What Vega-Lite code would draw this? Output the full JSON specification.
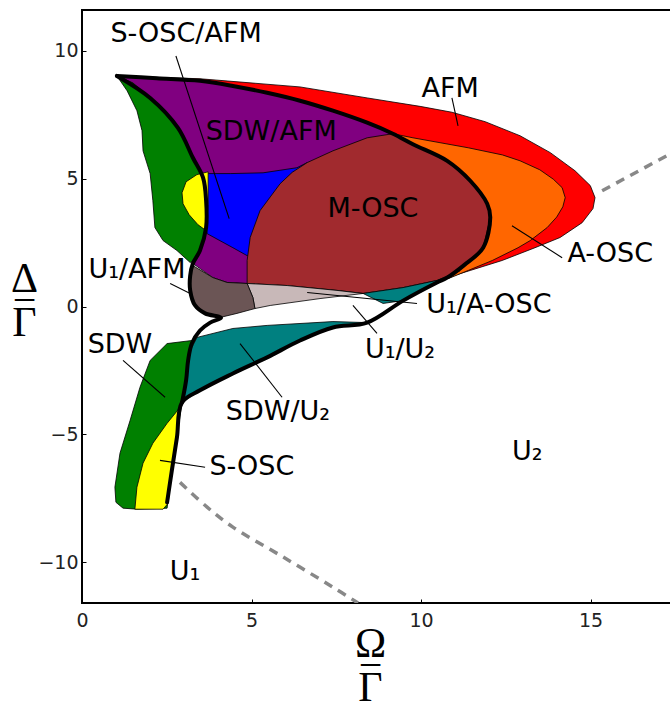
{
  "$schema": "https://vega.github.io/schema/vega-lite/v6.json",
  "width": 590,
  "height": 593,
  "autosize": {"type": "none"},
  "padding": {"left": 82, "top": 10, "right": 0, "bottom": 101},
  "background": "white",
  "config": {
    "view": {"stroke": "#000", "strokeWidth": 2},
    "axis": {"domain": false, "grid": false, "tickSize": -4, "tickColor": "#000", "labelFontSize": 19, "labelFont": "DejaVu Sans", "labelColor": "#222", "labelFlush": false, "titleFont": "Liberation Serif", "titleFontSize": 42, "titleFontWeight": "normal", "titleColor": "#000", "titleLineHeight": 22, "titleAngle": 0, "titleAlign": "center", "titleBaseline": "alphabetic"}
  },
  "datasets": {
    "poly": [
      {"r":"afm","i":1,"x":1.03,"y":9.02},{"r":"afm","i":2,"x":3.48,"y":8.91},{"r":"afm","i":3,"x":6.43,"y":8.59},{"r":"afm","i":4,"x":8.41,"y":8.16},{"r":"afm","i":5,"x":9.97,"y":7.83},{"r":"afm","i":6,"x":10.91,"y":7.60},{"r":"afm","i":7,"x":11.89,"y":7.23},{"r":"afm","i":8,"x":12.92,"y":6.68},{"r":"afm","i":9,"x":13.81,"y":6.02},{"r":"afm","i":10,"x":14.54,"y":5.31},{"r":"afm","i":11,"x":14.99,"y":4.73},{"r":"afm","i":12,"x":15.13,"y":4.26},{"r":"afm","i":13,"x":15.07,"y":3.83},{"r":"afm","i":14,"x":14.75,"y":3.28},{"r":"afm","i":15,"x":14.10,"y":2.70},{"r":"afm","i":16,"x":13.36,"y":2.30},{"r":"afm","i":17,"x":12.39,"y":1.80},{"r":"afm","i":18,"x":11.45,"y":1.41},{"r":"afm","i":19,"x":10.77,"y":1.13},{"r":"afm","i":20,"x":11.27,"y":1.62},{"r":"afm","i":21,"x":11.83,"y":2.30},{"r":"afm","i":22,"x":12.04,"y":3.48},{"r":"afm","i":23,"x":11.95,"y":4.02},{"r":"afm","i":24,"x":11.45,"y":4.92},{"r":"afm","i":25,"x":10.77,"y":5.70},{"r":"afm","i":26,"x":9.76,"y":6.35},{"r":"afm","i":27,"x":9.17,"y":6.76},{"r":"afm","i":28,"x":8.41,"y":7.19},{"r":"afm","i":29,"x":7.40,"y":7.66},{"r":"afm","i":30,"x":6.43,"y":8.05},{"r":"afm","i":31,"x":5.46,"y":8.36},{"r":"afm","i":32,"x":4.45,"y":8.63},{"r":"afm","i":33,"x":3.48,"y":8.83},{"r":"afm","i":34,"x":2.2,"y":8.93},
      {"r":"aosc","i":1,"x":9.17,"y":6.76},{"r":"aosc","i":2,"x":9.76,"y":6.60},{"r":"aosc","i":3,"x":11.39,"y":6.21},{"r":"aosc","i":4,"x":12.40,"y":5.93},{"r":"aosc","i":5,"x":12.92,"y":5.70},{"r":"aosc","i":6,"x":13.50,"y":5.35},{"r":"aosc","i":7,"x":13.90,"y":4.98},{"r":"aosc","i":8,"x":14.16,"y":4.65},{"r":"aosc","i":9,"x":14.25,"y":4.26},{"r":"aosc","i":10,"x":14.18,"y":3.90},{"r":"aosc","i":11,"x":14.00,"y":3.50},{"r":"aosc","i":12,"x":13.72,"y":3.09},{"r":"aosc","i":13,"x":13.22,"y":2.58},{"r":"aosc","i":14,"x":12.86,"y":2.30},{"r":"aosc","i":15,"x":12.10,"y":1.80},{"r":"aosc","i":16,"x":11.39,"y":1.41},{"r":"aosc","i":17,"x":10.80,"y":1.09},{"r":"aosc","i":18,"x":11.27,"y":1.62},{"r":"aosc","i":19,"x":11.83,"y":2.30},{"r":"aosc","i":20,"x":12.04,"y":3.48},{"r":"aosc","i":21,"x":11.95,"y":4.02},{"r":"aosc","i":22,"x":11.45,"y":4.92},{"r":"aosc","i":23,"x":10.77,"y":5.70},{"r":"aosc","i":24,"x":9.76,"y":6.35},
      {"r":"sdwafm","i":1,"x":1.03,"y":9.02},{"r":"sdwafm","i":2,"x":2.2,"y":8.93},{"r":"sdwafm","i":3,"x":3.48,"y":8.83},{"r":"sdwafm","i":4,"x":4.45,"y":8.63},{"r":"sdwafm","i":5,"x":5.46,"y":8.36},{"r":"sdwafm","i":6,"x":6.43,"y":8.05},{"r":"sdwafm","i":7,"x":7.40,"y":7.66},{"r":"sdwafm","i":8,"x":8.41,"y":7.19},{"r":"sdwafm","i":9,"x":9.17,"y":6.76},{"r":"sdwafm","i":10,"x":7.5,"y":4.0},{"r":"sdwafm","i":11,"x":4.87,"y":0.90},{"r":"sdwafm","i":12,"x":4.28,"y":0.94},{"r":"sdwafm","i":13,"x":3.86,"y":1.13},{"r":"sdwafm","i":14,"x":3.27,"y":1.68},{"r":"sdwafm","i":15,"x":3.48,"y":2.19},{"r":"sdwafm","i":16,"x":3.66,"y":3.09},{"r":"sdwafm","i":17,"x":3.66,"y":4.14},{"r":"sdwafm","i":18,"x":3.57,"y":5.04},{"r":"sdwafm","i":19,"x":3.27,"y":5.82},{"r":"sdwafm","i":20,"x":2.83,"y":6.99},{"r":"sdwafm","i":21,"x":2.01,"y":8.16},
      {"r":"soscafm","i":1,"x":3.69,"y":5.20},{"r":"soscafm","i":2,"x":4.37,"y":5.20},{"r":"soscafm","i":3,"x":5.34,"y":5.23},{"r":"soscafm","i":4,"x":6.34,"y":5.43},{"r":"soscafm","i":5,"x":6.64,"y":5.63},{"r":"soscafm","i":6,"x":7.5,"y":4.0},{"r":"soscafm","i":7,"x":4.87,"y":1.99},{"r":"soscafm","i":8,"x":4.45,"y":2.30},{"r":"soscafm","i":9,"x":3.69,"y":2.85},{"r":"soscafm","i":10,"x":3.62,"y":4.0},
      {"r":"mosc","i":1,"x":4.87,"y":0.90},{"r":"mosc","i":2,"x":4.87,"y":1.80},{"r":"mosc","i":3,"x":4.96,"y":2.70},{"r":"mosc","i":4,"x":5.25,"y":3.75},{"r":"mosc","i":5,"x":5.84,"y":4.80},{"r":"mosc","i":6,"x":6.2,"y":5.25},{"r":"mosc","i":7,"x":6.64,"y":5.63},{"r":"mosc","i":8,"x":7.40,"y":6.09},{"r":"mosc","i":9,"x":8.41,"y":6.60},{"r":"mosc","i":10,"x":9.17,"y":6.76},{"r":"mosc","i":11,"x":9.76,"y":6.35},{"r":"mosc","i":12,"x":10.77,"y":5.70},{"r":"mosc","i":13,"x":11.45,"y":4.92},{"r":"mosc","i":14,"x":11.95,"y":4.02},{"r":"mosc","i":15,"x":12.04,"y":3.48},{"r":"mosc","i":16,"x":11.83,"y":2.30},{"r":"mosc","i":17,"x":11.27,"y":1.62},{"r":"mosc","i":18,"x":10.77,"y":1.13},{"r":"mosc","i":19,"x":10.47,"y":1.02},{"r":"mosc","i":20,"x":9.47,"y":0.74},{"r":"mosc","i":21,"x":8.29,"y":0.51},{"r":"mosc","i":22,"x":7.52,"y":0.63},{"r":"mosc","i":23,"x":6.05,"y":0.82},
      {"r":"u1aosc","i":1,"x":4.87,"y":0.90},{"r":"u1aosc","i":2,"x":6.05,"y":0.82},{"r":"u1aosc","i":3,"x":7.52,"y":0.63},{"r":"u1aosc","i":4,"x":8.29,"y":0.51},{"r":"u1aosc","i":5,"x":7.02,"y":0.31},{"r":"u1aosc","i":6,"x":5.55,"y":0.04},{"r":"u1aosc","i":7,"x":5.10,"y":-0.08},{"r":"u1aosc","i":8,"x":5.04,"y":0.35},
      {"r":"tealA","i":1,"x":8.29,"y":0.51},{"r":"tealA","i":2,"x":9.47,"y":0.74},{"r":"tealA","i":3,"x":10.47,"y":1.02},{"r":"tealA","i":4,"x":11.15,"y":1.41},{"r":"tealA","i":5,"x":9.47,"y":0.23},{"r":"tealA","i":6,"x":8.88,"y":0.12},
      {"r":"u1afm","i":1,"x":3.27,"y":1.60},{"r":"u1afm","i":2,"x":3.86,"y":1.13},{"r":"u1afm","i":3,"x":4.28,"y":0.94},{"r":"u1afm","i":4,"x":4.87,"y":0.90},{"r":"u1afm","i":5,"x":5.04,"y":0.35},{"r":"u1afm","i":6,"x":5.10,"y":-0.08},{"r":"u1afm","i":7,"x":4.57,"y":-0.27},{"r":"u1afm","i":8,"x":4.10,"y":-0.42},{"r":"u1afm","i":9,"x":3.63,"y":-0.27},{"r":"u1afm","i":10,"x":3.33,"y":0.05},{"r":"u1afm","i":11,"x":3.19,"y":0.63},{"r":"u1afm","i":12,"x":3.19,"y":1.20},
      {"r":"sdwu2","i":1,"x":3.39,"y":-1.21},{"r":"sdwu2","i":2,"x":4.45,"y":-0.86},{"r":"sdwu2","i":3,"x":5.46,"y":-0.74},{"r":"sdwu2","i":4,"x":7.40,"y":-0.59},{"r":"sdwu2","i":5,"x":8.41,"y":-0.63},{"r":"sdwu2","i":6,"x":7.40,"y":-0.82},{"r":"sdwu2","i":7,"x":6.43,"y":-1.33},{"r":"sdwu2","i":8,"x":5.46,"y":-1.99},{"r":"sdwu2","i":9,"x":4.45,"y":-2.62},{"r":"sdwu2","i":10,"x":3.48,"y":-3.28},{"r":"sdwu2","i":11,"x":2.95,"y":-3.75},{"r":"sdwu2","i":12,"x":3.07,"y":-2.89},{"r":"sdwu2","i":13,"x":3.19,"y":-1.72},
      {"r":"sdw","i":1,"x":3.24,"y":-1.33},{"r":"sdw","i":2,"x":2.51,"y":-1.45},{"r":"sdw","i":3,"x":2.01,"y":-2.11},{"r":"sdw","i":4,"x":1.71,"y":-3.16},{"r":"sdw","i":5,"x":1.42,"y":-4.45},{"r":"sdw","i":6,"x":1.12,"y":-5.74},{"r":"sdw","i":7,"x":0.97,"y":-7.07},{"r":"sdw","i":8,"x":1.00,"y":-7.66},{"r":"sdw","i":9,"x":1.21,"y":-7.89},{"r":"sdw","i":10,"x":1.62,"y":-7.93},{"r":"sdw","i":11,"x":2.51,"y":-7.89},{"r":"sdw","i":12,"x":2.65,"y":-6.41},{"r":"sdw","i":13,"x":2.80,"y":-5.12},{"r":"sdw","i":14,"x":2.95,"y":-3.75},{"r":"sdw","i":15,"x":3.10,"y":-2.50},
      {"r":"sosc","i":1,"x":2.89,"y":-3.95},{"r":"sosc","i":2,"x":2.51,"y":-4.57},{"r":"sosc","i":3,"x":2.09,"y":-5.35},{"r":"sosc","i":4,"x":1.80,"y":-6.13},{"r":"sosc","i":5,"x":1.62,"y":-7.07},{"r":"sosc","i":6,"x":1.56,"y":-7.93},{"r":"sosc","i":7,"x":2.39,"y":-7.93},{"r":"sosc","i":8,"x":2.54,"y":-7.70},{"r":"sosc","i":9,"x":2.65,"y":-6.41},{"r":"sosc","i":10,"x":2.80,"y":-5.12},
      {"r":"sdw2","i":1,"x":1.03,"y":9.02},{"r":"sdw2","i":2,"x":1.33,"y":8.44},{"r":"sdw2","i":3,"x":1.62,"y":7.66},{"r":"sdw2","i":4,"x":1.77,"y":6.88},{"r":"sdw2","i":5,"x":1.80,"y":6.09},{"r":"sdw2","i":6,"x":2.01,"y":5.20},{"r":"sdw2","i":7,"x":2.09,"y":4.14},{"r":"sdw2","i":8,"x":2.15,"y":3.09},{"r":"sdw2","i":9,"x":2.39,"y":2.58},{"r":"sdw2","i":10,"x":2.80,"y":2.19},{"r":"sdw2","i":11,"x":3.19,"y":1.72},{"r":"sdw2","i":12,"x":3.30,"y":1.80},{"r":"sdw2","i":13,"x":3.48,"y":2.19},{"r":"sdw2","i":14,"x":3.66,"y":3.09},{"r":"sdw2","i":15,"x":3.66,"y":4.14},{"r":"sdw2","i":16,"x":3.57,"y":5.04},{"r":"sdw2","i":17,"x":3.27,"y":5.82},{"r":"sdw2","i":18,"x":2.83,"y":6.99},{"r":"sdw2","i":19,"x":2.01,"y":8.16},{"r":"sdw2","i":20,"x":1.50,"y":8.75},
      {"r":"sosc2","i":1,"x":3.72,"y":5.27},{"r":"sosc2","i":2,"x":3.39,"y":5.16},{"r":"sosc2","i":3,"x":3.07,"y":4.88},{"r":"sosc2","i":4,"x":2.95,"y":4.45},{"r":"sosc2","i":5,"x":2.98,"y":4.02},{"r":"sosc2","i":6,"x":3.16,"y":3.59},{"r":"sosc2","i":7,"x":3.42,"y":3.20},{"r":"sosc2","i":8,"x":3.66,"y":2.97},{"r":"sosc2","i":9,"x":3.72,"y":4.0}
    ],
    "lines": [
      {"r":"A","i":1,"x":1.03,"y":9.02},{"r":"A","i":2,"x":2.2,"y":8.93},{"r":"A","i":3,"x":3.48,"y":8.83},{"r":"A","i":4,"x":4.45,"y":8.63},{"r":"A","i":5,"x":5.46,"y":8.36},{"r":"A","i":6,"x":6.43,"y":8.05},{"r":"A","i":7,"x":7.40,"y":7.66},{"r":"A","i":8,"x":8.41,"y":7.19},{"r":"A","i":9,"x":9.17,"y":6.76},{"r":"A","i":10,"x":9.76,"y":6.35},{"r":"A","i":11,"x":10.77,"y":5.70},{"r":"A","i":12,"x":11.45,"y":4.92},{"r":"A","i":13,"x":11.95,"y":4.02},{"r":"A","i":14,"x":12.04,"y":3.48},{"r":"A","i":15,"x":11.83,"y":2.30},{"r":"A","i":16,"x":11.27,"y":1.62},{"r":"A","i":17,"x":10.77,"y":1.13},{"r":"A","i":18,"x":10.47,"y":0.94},{"r":"A","i":19,"x":9.47,"y":0.23},{"r":"A","i":20,"x":8.41,"y":-0.63},{"r":"A","i":21,"x":7.40,"y":-0.82},{"r":"A","i":22,"x":6.43,"y":-1.33},{"r":"A","i":23,"x":5.46,"y":-1.99},{"r":"A","i":24,"x":4.45,"y":-2.62},{"r":"A","i":25,"x":3.48,"y":-3.28},{"r":"A","i":26,"x":2.95,"y":-3.75},{"r":"A","i":27,"x":2.80,"y":-5.12},{"r":"A","i":28,"x":2.65,"y":-6.41},{"r":"A","i":29,"x":2.51,"y":-7.66},
      {"r":"B","i":1,"x":1.03,"y":9.02},{"r":"B","i":2,"x":2.01,"y":8.16},{"r":"B","i":3,"x":2.83,"y":6.99},{"r":"B","i":4,"x":3.27,"y":5.82},{"r":"B","i":5,"x":3.57,"y":5.04},{"r":"B","i":6,"x":3.66,"y":4.14},{"r":"B","i":7,"x":3.66,"y":3.09},{"r":"B","i":8,"x":3.48,"y":2.19},{"r":"B","i":9,"x":3.27,"y":1.68},{"r":"B","i":10,"x":3.19,"y":1.20},{"r":"B","i":11,"x":3.19,"y":0.63},{"r":"B","i":12,"x":3.33,"y":0.05},{"r":"B","i":13,"x":3.63,"y":-0.27},{"r":"B","i":14,"x":4.10,"y":-0.44},{"r":"B","i":15,"x":3.78,"y":-0.63},{"r":"B","i":16,"x":3.48,"y":-0.94},{"r":"B","i":17,"x":3.24,"y":-1.45},{"r":"B","i":18,"x":3.13,"y":-2.11},{"r":"B","i":19,"x":3.07,"y":-2.89},{"r":"B","i":20,"x":2.95,"y":-3.75}
    ],
    "dashed": [
      {"r":"d1","i":1,"x":15.34,"y":4.53},{"r":"d1","i":2,"x":17.4,"y":6.01},
      {"r":"d2","i":1,"x":2.89,"y":-6.88},{"r":"d2","i":2,"x":3.69,"y":-7.85},{"r":"d2","i":3,"x":4.45,"y":-8.63},{"r":"d2","i":4,"x":5.93,"y":-9.80},{"r":"d2","i":5,"x":7.40,"y":-10.98},{"r":"d2","i":6,"x":8.14,"y":-11.6}
    ],
    "leaders": [
      {"x":2.77,"y":9.80,"x2":4.34,"y2":3.44},
      {"x":10.91,"y":8.16,"x2":11.09,"y2":7.07},
      {"x":12.68,"y":3.16,"x2":14.16,"y2":1.91},
      {"x":2.60,"y":0.90,"x2":3.19,"y2":0.51},
      {"x":6.64,"y":0.55,"x2":9.88,"y2":0.12},
      {"x":7.99,"y":0.04,"x2":8.70,"y2":-1.05},
      {"x":1.21,"y":-2.11,"x2":2.45,"y2":-3.55},
      {"x":4.66,"y":-1.45,"x2":5.90,"y2":-3.55},
      {"x":2.30,"y":-6.02,"x2":3.63,"y2":-6.29}
    ],
    "labels": [
      {"t":"S-OSC/AFM","x":3.07,"y":10.66},
      {"t":"SDW/AFM","x":5.58,"y":6.84},
      {"t":"AFM","x":10.86,"y":8.52},
      {"t":"M-OSC","x":8.58,"y":3.83},
      {"t":"A-OSC","x":15.58,"y":2.07},
      {"t":"U₁/AFM","x":1.62,"y":1.41},
      {"t":"U₁/A-OSC","x":12.0,"y":0.04},
      {"t":"U₁/U₂","x":9.38,"y":-1.72},
      {"t":"SDW","x":1.12,"y":-1.52},
      {"t":"SDW/U₂","x":5.78,"y":-4.14},
      {"t":"S-OSC","x":5.01,"y":-6.29},
      {"t":"U₂","x":13.13,"y":-5.70},
      {"t":"U₁","x":3.04,"y":-10.39}
    ]
  },
  "encoding": {
    "x": {"field": "x", "type": "quantitative", "scale": {"domain": [0, 17.4], "nice": false, "zero": false},
      "axis": {"values": [0, 5, 10, 15], "labelPadding": 12, "title": ["Ω", "−", "Γ"], "titleX": 288, "titleY": 53}},
    "y": {"field": "y", "type": "quantitative", "scale": {"domain": [-11.6, 11.6], "nice": false, "zero": false},
      "axis": {"values": [-10, -5, 0, 5, 10], "labelPadding": 8, "title": ["Δ", "−", "Γ"], "titleX": -58, "titleY": 281}}
  },
  "layer": [
    {"data": {"name": "poly"}, "transform": [{"filter": "datum.r == 'afm'"}], "mark": {"type": "line", "interpolate": "linear-closed", "fill": "#ff0000", "stroke": "#000", "strokeWidth": 0.8}, "encoding": {"order": {"field": "i"}}},
    {"data": {"name": "poly"}, "transform": [{"filter": "datum.r == 'aosc'"}], "mark": {"type": "line", "interpolate": "linear-closed", "fill": "#ff6600", "stroke": "#000", "strokeWidth": 0.8}, "encoding": {"order": {"field": "i"}}},
    {"data": {"name": "poly"}, "transform": [{"filter": "datum.r == 'sdwafm'"}], "mark": {"type": "line", "interpolate": "linear-closed", "fill": "#800080", "stroke": "#000", "strokeWidth": 0.8}, "encoding": {"order": {"field": "i"}}},
    {"data": {"name": "poly"}, "transform": [{"filter": "datum.r == 'soscafm'"}], "mark": {"type": "line", "interpolate": "linear-closed", "fill": "#0000ff", "stroke": "#000", "strokeWidth": 0.8}, "encoding": {"order": {"field": "i"}}},
    {"data": {"name": "poly"}, "transform": [{"filter": "datum.r == 'mosc'"}], "mark": {"type": "line", "interpolate": "linear-closed", "fill": "#a12a2e", "stroke": "#000", "strokeWidth": 0.8}, "encoding": {"order": {"field": "i"}}},
    {"data": {"name": "poly"}, "transform": [{"filter": "datum.r == 'u1aosc'"}], "mark": {"type": "line", "interpolate": "linear-closed", "fill": "#c8b8b8", "stroke": "#000", "strokeWidth": 0.8}, "encoding": {"order": {"field": "i"}}},
    {"data": {"name": "poly"}, "transform": [{"filter": "datum.r == 'tealA'"}], "mark": {"type": "line", "interpolate": "linear-closed", "fill": "#008080", "stroke": "#000", "strokeWidth": 0.8}, "encoding": {"order": {"field": "i"}}},
    {"data": {"name": "poly"}, "transform": [{"filter": "datum.r == 'u1afm'"}], "mark": {"type": "line", "interpolate": "linear-closed", "fill": "#6b5555", "stroke": "#000", "strokeWidth": 0.8}, "encoding": {"order": {"field": "i"}}},
    {"data": {"name": "poly"}, "transform": [{"filter": "datum.r == 'sdwu2'"}], "mark": {"type": "line", "interpolate": "linear-closed", "fill": "#008080", "stroke": "#000", "strokeWidth": 0.8}, "encoding": {"order": {"field": "i"}}},
    {"data": {"name": "poly"}, "transform": [{"filter": "datum.r == 'sdw'"}], "mark": {"type": "line", "interpolate": "linear-closed", "fill": "#008000", "stroke": "#000", "strokeWidth": 0.8}, "encoding": {"order": {"field": "i"}}},
    {"data": {"name": "poly"}, "transform": [{"filter": "datum.r == 'sosc'"}], "mark": {"type": "line", "interpolate": "linear-closed", "fill": "#ffff00", "stroke": "#000", "strokeWidth": 0.8}, "encoding": {"order": {"field": "i"}}},
    {"data": {"name": "poly"}, "transform": [{"filter": "datum.r == 'sdw2'"}], "mark": {"type": "line", "interpolate": "linear-closed", "fill": "#008000", "stroke": "#000", "strokeWidth": 0.8}, "encoding": {"order": {"field": "i"}}},
    {"data": {"name": "poly"}, "transform": [{"filter": "datum.r == 'sosc2'"}], "mark": {"type": "line", "interpolate": "linear-closed", "fill": "#ffff00", "stroke": "#000", "strokeWidth": 0.8}, "encoding": {"order": {"field": "i"}}},
    {"data": {"name": "lines"}, "transform": [{"filter": "datum.r == 'A'"}], "mark": {"type": "line", "interpolate": "catmull-rom", "stroke": "#000", "strokeWidth": 4, "strokeJoin": "round", "strokeCap": "round"}, "encoding": {"order": {"field": "i"}}},
    {"data": {"name": "lines"}, "transform": [{"filter": "datum.r == 'B'"}], "mark": {"type": "line", "interpolate": "catmull-rom", "stroke": "#000", "strokeWidth": 4, "strokeJoin": "round", "strokeCap": "round"}, "encoding": {"order": {"field": "i"}}},
    {"data": {"name": "dashed"}, "transform": [{"filter": "datum.r == 'd1'"}], "mark": {"type": "line", "clip": true, "stroke": "#888", "strokeWidth": 3.5, "strokeDash": [9, 7]}, "encoding": {"order": {"field": "i"}}},
    {"data": {"name": "dashed"}, "transform": [{"filter": "datum.r == 'd2'"}], "mark": {"type": "line", "clip": true, "interpolate": "catmull-rom", "stroke": "#888", "strokeWidth": 3.5, "strokeDash": [9, 7]}, "encoding": {"order": {"field": "i"}}},
    {"data": {"name": "leaders"}, "mark": {"type": "rule", "stroke": "#000", "strokeWidth": 1.1}, "encoding": {"x2": {"field": "x2"}, "y2": {"field": "y2"}}},
    {"data": {"name": "labels"}, "mark": {"type": "text", "font": "DejaVu Sans", "fontSize": 27, "color": "#000", "align": "center", "baseline": "middle"}, "encoding": {"text": {"field": "t"}}}
  ]
}
